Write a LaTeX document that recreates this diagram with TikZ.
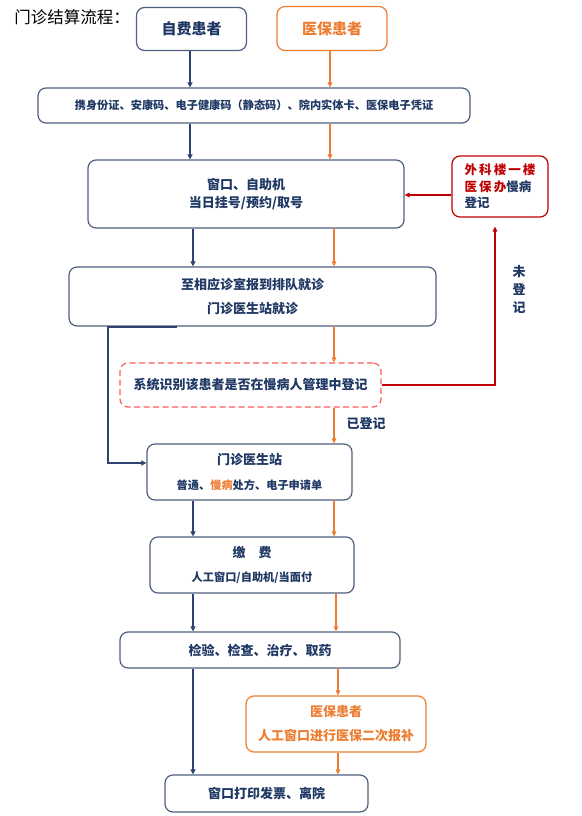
\documentclass[tikz,border=0pt]{standalone}
\usepackage{fontspec}
\setmainfont{Noto Sans CJK SC}
\usetikzlibrary{arrows.meta}
\definecolor{navy}{HTML}{1F3864}
\definecolor{boxline}{HTML}{4E5F80}
\definecolor{navyline}{HTML}{2E4372}
\definecolor{orng}{HTML}{ED7D31}
\definecolor{darkred}{HTML}{C00000}
\definecolor{lightred}{HTML}{FF5B5B}
\def\fb#1#2{\bfseries\fontsize{#1}{#2}\selectfont}
\def\fr#1#2{\fontsize{#1}{#2}\selectfont}

\begin{document}
\begin{tikzpicture}[x=1pt,y=-1pt,
    box/.style={draw=boxline,line width=1.2pt,rounded corners=8pt,text=navy,align=center,inner sep=0pt},
    nav/.style={navyline,line width=1.8pt,-{Triangle[length=5pt,width=5pt]}},
    org/.style={orng,line width=1.4pt,-{Triangle[length=5pt,width=4.5pt]}},
    rline/.style={darkred,line width=1.5pt,-{Triangle[length=5pt,width=4.5pt]}}]
    \useasboundingbox (0,0) rectangle (581,816);
    % columns of the arrows
    \coordinate (nA) at (190,0);
    \coordinate (nB) at (193,0);
    \coordinate (nL) at (108,0);
    \coordinate (nR) at (177,0);
    \coordinate (oA) at (330,0);
    \coordinate (oB) at (334,0);
    \coordinate (oC) at (336,0);
    \coordinate (oD) at (338,0);
    \coordinate (rC) at (495,0);
    \coordinate (rY) at (0,195);
    \coordinate (nY) at (0,463);

    \node[font=\fr{16.5}{18}] (title) at (72,17) {门诊结算流程：};
    \node[box,minimum width=110pt,minimum height=43pt,font=\fb{15}{18}] (zifei) at (191.5,29) {自费患者};
    \node[box,draw=orng,text=orng,minimum width=110pt,minimum height=44pt,font=\fb{15}{18}] (yibao) at (332,28.5) {医保患者};
    \node[box,minimum width=432pt,minimum height=35pt,font=\fb{11.2}{14}] (zj) at (254,105.5)
        {携身份证、安康码、电子健康码（静态码）、院内实体卡、医保电子凭证};
    \node[box,minimum width=316pt,minimum height=68pt,font=\fb{13}{18}] (gh) at (246,194)
        {窗口、自助机\\当日挂号/预约/取号};
    \node[box,minimum width=367pt,minimum height=59pt,font=\fb{13}{24}] (jz) at (252.5,296.5)
        {至相应诊室报到排队就诊\\门诊医生站就诊};
    \node[box,draw=darkred,align=left,minimum width=96pt,minimum height=61pt,font=\fb{12.5}{16.5}] (mb) at (500,186.5)
        {\textcolor{darkred}{外\,科\,楼\,一\,楼}\\\textcolor{darkred}{医\,保\,办}慢病\\登记};
    \node[box,draw=lightred,dash pattern=on 6pt off 3.5pt,minimum width=261pt,minimum height=44pt,font=\fb{13}{18}] (sb) at (250.5,385)
        {系统识别该患者是否在慢病人管理中登记};
    \node[box,minimum width=205pt,minimum height=56pt,font=\fb{11.2}{25}] (ys) at (249.5,472)
        {{\fontsize{13}{25}\selectfont 门诊医生站}\\普通、\textcolor{orng}{慢病}处方、电子申请单};
    \node[box,minimum width=204pt,minimum height=56pt,font=\fb{11.2}{24}] (jf) at (252,565)
        {{\fontsize{13}{24}\selectfont 缴　费}\\人工窗口/自助机/当面付};
    \node[box,minimum width=280pt,minimum height=36pt,font=\fb{13}{18}] (jy) at (260,650)
        {检验、检查、治疗、取药};
    \node[box,draw=orng,text=orng,minimum width=180pt,minimum height=56pt,font=\fb{13}{24}] (bc) at (336,724)
        {医保患者\\人工窗口进行医保二次报补};
    \node[box,minimum width=203pt,minimum height=37pt,font=\fb{13}{18}] (dy) at (266.5,793.5)
        {窗口打印发票、离院};
    \node[text=navy,align=center,font=\fb{13}{18}] (wdj) at (519,290) {未\\登\\记};
    \node[text=navy,font=\fb{13}{18}] (ydj) at (366,424) {已登记};

    \draw[nav] (zifei.south -| nA) -- (zj.north -| nA);
    \draw[org] (yibao.south -| oA) -- (zj.north -| oA);
    \draw[nav] (zj.south -| nA) -- (gh.north -| nA);
    \draw[org] (zj.south -| oA) -- (gh.north -| oA);
    \draw[nav] (gh.south -| nB) -- (jz.north -| nB);
    \draw[org] (gh.south -| oB) -- (jz.north -| oB);
    \draw[org] (jz.south -| oB) -- (sb.north -| oB);
    \draw[nav] (jz.south -| nR) -- (jz.south -| nL) |- (ys.west |- nY);
    \draw[org] (sb.south -| oB) -- (ys.north -| oB);
    \draw[rline,shorten >=9pt] (sb.east) -| (mb.south -| rC);
    \draw[rline] (mb.west |- rY) -- (gh.east |- rY);
    \draw[nav] (ys.south -| nB) -- (jf.north -| nB);
    \draw[org] (ys.south -| oB) -- (jf.north -| oB);
    \draw[nav] (jf.south -| nB) -- (jy.north -| nB);
    \draw[org] (jf.south -| oC) -- (jy.north -| oC);
    \draw[nav] (jy.south -| nB) -- (dy.north -| nB);
    \draw[org] (jy.south -| oD) -- (bc.north -| oD);
    \draw[org] (bc.south -| oD) -- (dy.north -| oD);
\end{tikzpicture}
\end{document}
